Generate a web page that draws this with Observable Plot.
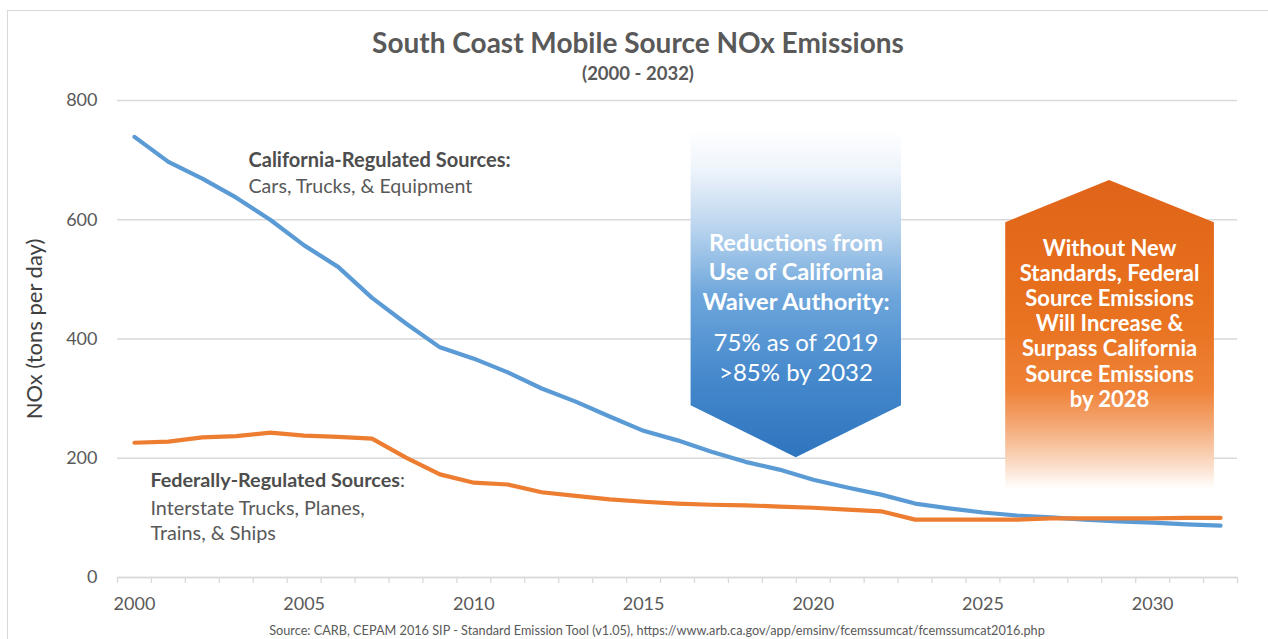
<!DOCTYPE html>
<html>
<head>
<meta charset="utf-8">
<script src="https://cdn.jsdelivr.net/npm/d3@7"></script>
<script src="https://cdn.jsdelivr.net/npm/@observablehq/plot@0.6"></script>
<style>
  body { margin: 0; background: #fff; }
  #wrap { position: relative; width: 1268px; height: 639px; overflow: hidden; font-family: Lato, "Open Sans", sans-serif; background: #fff; }
  #frame { position: absolute; left: 7px; top: 10px; right: -5px; bottom: -5px; border-left: 1px solid #d9d9d9; border-top: 1px solid #d9d9d9; }
  #chart { position: absolute; left: 0; top: 0; }
  #title { position: absolute; left: 0; width: 1276px; top: 24px; text-align: center; font-weight: bold; font-size: 28px; color: #595959; line-height: 36px; }
  #subtitle { position: absolute; left: 0; width: 1276px; top: 62px; text-align: center; font-weight: bold; font-size: 18.5px; color: #595959; line-height: 22px; }
  #ylabel { position: absolute; left: 33px; top: 329px; transform: translate(-50%, -50%) rotate(-90deg); white-space: nowrap; font-size: 22px; color: #404040; }
  #source { position: absolute; left: 0; width: 1314px; top: 622px; text-align: center; font-size: 12.7px; color: #595959; line-height: 16px; }
</style>
</head>
<body>
<div id="wrap">
  <div id="frame"></div>
  <div id="chart"></div>
  <div id="title">South Coast Mobile Source NOx Emissions</div>
  <div id="subtitle">(2000 - 2032)</div>
  <div id="ylabel">NOx (tons per day)</div>
  <div id="source">Source: CARB, CEPAM 2016 SIP - Standard Emission Tool (v1.05), https://www.arb.ca.gov/app/emsinv/fcemssumcat/fcemssumcat2016.php</div>
</div>
<script>
// ---- Data (tons per day) ----
const years = [2000, 2001, 2002, 2003, 2004, 2005, 2006, 2007, 2008, 2009, 2010,
  2011, 2012, 2013, 2014, 2015, 2016, 2017, 2018, 2019, 2020,
  2021, 2022, 2023, 2024, 2025, 2026, 2027, 2028, 2029, 2030, 2031, 2032];
const california = [739, 697, 669, 637, 600, 557, 521, 469, 426, 386, 367,
  344, 317, 295, 270, 246, 230, 211, 194, 181, 164,
  151, 139, 124, 116, 109, 104, 101, 97, 94, 92, 89, 87];
const federal = [226, 228, 235, 237, 243, 238, 236, 233, 201, 173, 159,
  156, 143, 137, 131, 127, 124, 122, 121, 119, 117,
  114, 111, 97, 97, 97, 97, 99, 99, 99, 99, 100, 100];
const yTicks = [0, 200, 400, 600, 800];
const xTickLabels = [2000, 2005, 2010, 2015, 2020, 2025, 2030];

const californiaTitle = "California-Regulated Sources:";
const californiaDesc = "Cars, Trucks, & Equipment";
const federalTitle = "Federally-Regulated Sources:";
const federalDesc = "Interstate Trucks, Planes,\nTrains, & Ships";
const blueHead = "Reductions from\nUse of California\nWaiver Authority:";
const blueBody = "75% as of 2019\n>85% by 2032";
const orangeText = "Without New\nStandards, Federal\nSource Emissions\nWill Increase &\nSurpass California\nSource Emissions\nby 2028";

// category boundaries (Excel-style ticks between categories)
const boundaries = [...years.map(y => y - 0.5), years[years.length - 1] + 0.5];
const idx = years.map((_, i) => i);

// arrow callouts (in data units: year, tons/day)
const blueArrow = { x: [2016.4, 2019.5, 2022.6], bottom: [288, 201, 288], top: 749 };
const orangeArrow = { x: [2025.67, 2028.73, 2031.82], top: [595, 666, 595], bottom: 148 };

const chart = Plot.plot({
  width: 1268,
  height: 639,
  marginLeft: 117,
  marginRight: 31,
  marginTop: 100,
  marginBottom: 62,
  x: { domain: [boundaries[0], boundaries[boundaries.length - 1]] },
  y: { domain: [0, 800] },
  style: { fontFamily: "Lato, 'Open Sans', sans-serif", background: "transparent", overflow: "visible" },
  marks: [
    Plot.gridY(yTicks, { stroke: "#d9d9d9", strokeOpacity: 1, strokeWidth: 1.3 }),
    Plot.axisY(yTicks, { tickSize: 0, tickPadding: 20, fontSize: 18, fill: "#595959", label: null }),
    Plot.axisX(boundaries, { tickSize: 6, stroke: "#d9d9d9", strokeWidth: 1.3, tickFormat: () => "", label: null }),
    Plot.ruleY([0], { stroke: "#d9d9d9", strokeWidth: 1.5 }),
    Plot.axisX(xTickLabels, { tickSize: 0, tickPadding: 20, fontSize: 18, fill: "#595959", tickFormat: d => String(d), label: null }),
    // arrows
    Plot.areaY([0, 1, 2], {
      x: i => blueArrow.x[i], y1: i => blueArrow.bottom[i], y2: () => blueArrow.top,
      fill: "url(#blueGrad)", curve: "linear"
    }),
    Plot.areaY([0, 1, 2], {
      x: i => orangeArrow.x[i], y1: () => orangeArrow.bottom, y2: i => orangeArrow.top[i],
      fill: "url(#orangeGrad)", curve: "linear"
    }),
    // series
    Plot.line(idx, { x: i => years[i], y: i => california[i], stroke: "#5b9bd5", strokeWidth: 4.2, strokeLinejoin: "round", strokeLinecap: "round" }),
    Plot.line(idx, { x: i => years[i], y: i => federal[i], stroke: "#ed7d31", strokeWidth: 4.2, strokeLinejoin: "round", strokeLinecap: "round" }),
    // annotations
    Plot.text([californiaTitle], { x: 2003.36, y: 699, text: d => d, textAnchor: "start", fontSize: 20, fontWeight: "bold", fill: "#4d4d4d" }),
    Plot.text([californiaDesc], { x: 2003.36, y: 655, text: d => d, textAnchor: "start", fontSize: 19.6, fill: "#595959" }),
    Plot.text([federalTitle], { x: 2000.47, y: 163, text: d => d, textAnchor: "start", fontSize: 19.8, fontWeight: "bold", fill: "#4d4d4d", className: "fedtitle" }),
    Plot.text([federalDesc], { x: 2000.47, y: 98, text: d => d, textAnchor: "start", fontSize: 19.8, lineHeight: 1.26, fill: "#595959" }),
    Plot.text([blueHead], { x: 2019.49, y: 514, text: d => d, fontSize: 23.7, fontWeight: "bold", lineHeight: 1.245, fill: "white" }),
    Plot.text([blueBody], { x: 2019.49, y: 370.5, text: d => d, fontSize: 24, lineHeight: 1.25, fill: "white" }),
    Plot.text([orangeText], { x: 2028.73, y: 426.5, text: d => d, fontSize: 22, fontWeight: "bold", lineHeight: 1.145, fill: "white" })
  ]
});

// gradients for the arrow callouts
const svg = d3.select(chart);
const defs = svg.insert("defs", ":first-child");
const bg = defs.append("linearGradient").attr("id", "blueGrad").attr("x1", 0).attr("y1", 0).attr("x2", 0).attr("y2", 1);
[[0, "#ffffff"], [0.12, "#eef4fb"], [0.3, "#b9d4ee"], [0.5, "#6fa7dc"], [0.75, "#4689cc"], [1, "#2e75bf"]]
  .forEach(([o, c]) => bg.append("stop").attr("offset", o).attr("stop-color", c));
const og = defs.append("linearGradient").attr("id", "orangeGrad").attr("x1", 0).attr("y1", 0).attr("x2", 0).attr("y2", 1);
[[0, "#e06418"], [0.45, "#e8721f"], [0.68, "#ef8237"], [0.8, "#f4aa78"], [0.92, "#fbdcc6"], [1, "#ffffff"]]
  .forEach(([o, c]) => og.append("stop").attr("offset", o).attr("stop-color", c));

// colon of the federal title in regular weight
svg.selectAll("g.fedtitle text, .fedtitle text").each(function () {
  const t = d3.select(this);
  t.text("");
  t.append("tspan").text("Federally-Regulated Sources");
  t.append("tspan").attr("font-weight", "normal").text(":");
});

document.getElementById("chart").appendChild(chart);
</script>
</body>
</html>
